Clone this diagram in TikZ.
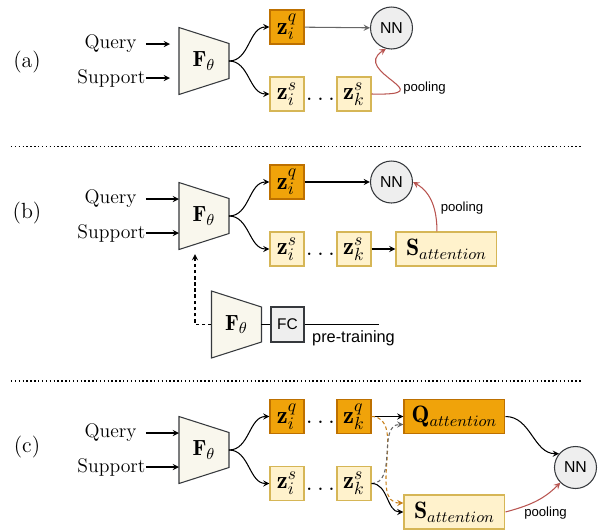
\documentclass[tikz,border=0pt]{standalone}
\usepackage{fontspec}
\newfontfamily\sansfont{Liberation Sans}
\usetikzlibrary{positioning, shapes.geometric, arrows, calc}
\definecolor{zqfill}{HTML}{F0A30A}
\definecolor{zqline}{HTML}{BD7000}
\definecolor{zsfill}{HTML}{FFF2CC}
\definecolor{zsline}{HTML}{D6B656}
\definecolor{encfill}{HTML}{F9F7ED}
\definecolor{encline}{HTML}{36393D}
\definecolor{nnfill}{HTML}{EEEEEE}
\definecolor{poolred}{HTML}{B85450}
\definecolor{dashorange}{HTML}{C8801A}
\tikzset{
	zq/.style={
		rectangle,
		draw=zqline,
		fill=zqfill,
		minimum size=0.68cm,
		inner sep=0pt,
		font=\fontsize{14}{16}\selectfont,
	},
	zs/.style={
		zq,
		draw=zsline,
		fill=zsfill,
	},
	attq/.style={zq, minimum width=2.02cm, font=\fontsize{13.5}{16}\selectfont},
	atts/.style={zs, minimum width=2.02cm, font=\fontsize{13.5}{16}\selectfont},
	nn/.style={
		circle,
		draw=encline,
		fill=nnfill,
		minimum size=0.84cm,
		inner sep=0pt,
		font=\sansfont\fontsize{9}{10}\selectfont,
	},
	fcbox/.style={
		rectangle,
		draw=encline,
		fill=nnfill,
		minimum width=0.66cm,
		minimum height=0.7cm,
		inner sep=0pt,
		font=\sansfont\fontsize{8.8}{10}\selectfont,
	},
	enc/.style={draw=encline, fill=encfill},
	inlbl/.style={anchor=east, inner sep=0pt, font=\fontsize{11.2}{13}\selectfont},
	pool/.style={->, poolred},
	poollbl/.style={inner sep=0pt, font=\sansfont\fontsize{7.5}{9}\selectfont},
	ptlbl/.style={inner sep=0pt, font=\sansfont\fontsize{9.3}{11}\selectfont},
	dots/.style={inner sep=0pt, yshift=-0.11cm, font=\fontsize{14}{16}\selectfont},
	panel/.style={font=\fontsize{12.5}{15}\selectfont},
	sep/.style={line width=0.8pt, dash pattern=on 0.8pt off 1.4pt},
	dsh/.style={dash pattern=on 2pt off 1.5pt},
}
% encoder trapezoid with its label and anchors
\newcommand{\encoder}[2]{%
	\draw[enc] (#2) ++(-25,-33.5) -- ++(50,16) -- ++(0,35) -- ++(-50,16) -- cycle;
	\node[font=\fontsize{12.5}{15}\selectfont] (#1) at (#2) {$\mathbf{F}_\theta$};
	\coordinate (#1-q) at ($(#2)+(-25,-17)$);
	\coordinate (#1-s) at ($(#2)+(-25,17)$);
	\coordinate (#1-in) at ($(#2)+(-25,0)$);
	\coordinate (#1-out) at ($(#2)+(25,0)$);
}
\begin{document}
\begin{tikzpicture}[x=0.02cm, y=-0.02cm, node distance=1.34cm, >=stealth, line width=0.6pt]
	\useasboundingbox (0,0) rectangle (600,529);
	
	% (a)
	\node[panel] (pa) at (27,62) {(a)};
	\encoder{encA}{204,61}
	\node[inlbl, inner xsep=5.1pt] (qrya) at (146,44) {Query};
	\node[inlbl] (supa) at (146,78) {Support};
	\draw [->] (qrya) to ([xshift=-0.18cm]encA-q);
	\draw [->] (supa) to ([xshift=-0.18cm]encA-s);
	
	\node[zq] (zaiq) at (287,27) {$\mathbf{z}_i^q$};
	\node[zs, below of = zaiq] (zais) {$\mathbf{z}_i^s$};
	\node[zs, right of = zais] (zaks) {$\mathbf{z}_k^s$};
	\node[dots] (dta) at ($(zais)!0.5!(zaks)$) {$\ldots$};
	\node[nn] (nna) at (391.5,28) {NN};
	
	\draw [->] (encA-out) to[out=0, in=180] (zaiq.west);
	\draw [->] (encA-out) to[out=0, in=180] (zais.west);
	\draw [->, black!60] (zaiq) to (nna);
	\draw [pool] (zaks.east) .. controls +(74,2) and +(-36,23) .. (nna.-105);
	\node[poollbl] (pla) at (424.5,88) {pooling};
	
	\draw [sep] (11,146.5) -- (581,146.5);
	
	% (b)
	\node[panel] (pb) at (27,213) {(b)};
	\encoder{encB}{204,216}
	\node[inlbl, inner xsep=5.1pt] (qryb) at (146,199) {Query};
	\node[inlbl] (supb) at (146,233) {Support};
	\draw [->] (qryb) to (encB-q);
	\draw [->] (supb) to (encB-s);
	
	\node[zq] (zbiq) at (287,182) {$\mathbf{z}_i^q$};
	\node[zs, below of = zbiq] (zbis) {$\mathbf{z}_i^s$};
	\node[zs, right of = zbis] (zbks) {$\mathbf{z}_k^s$};
	\node[dots] (dtb) at ($(zbis)!0.5!(zbks)$) {$\ldots$};
	\node[atts, right of = zbks, xshift=0.51cm] (satb) {$\mathbf{S}_{attention}$};
	\node[nn] (nnb) at (391.5,182) {NN};
	
	\draw [->] (encB-out) to[out=0, in=180] (zbiq.west);
	\draw [->] (encB-out) to[out=0, in=180] (zbis.west);
	\draw [->] (zbiq) to (nnb);
	\draw [->] (zbks) to (satb);
	\draw [pool] ([xshift=-0.19cm]satb.north) to[out=90, in=-30] (nnb.east);
	\node[poollbl] (plb) at (462,208) {pooling};
	
	\encoder{encP}{236.5,324.5}
	\node[fcbox] (fc) at (287.5,324.5) {FC};
	\coordinate (ptend) at (379,324.5);
	\coordinate (encB-dn) at (195,254);
	\draw (encP-out) to (fc);
	\draw (fc) to (ptend);
	\node[ptlbl] (ptl) at (353.5,338) {pre-training};
	\draw [->, dsh] (encP-in) -| (encB-dn);
	
	\draw [sep] (11,381) -- (581,381);
	
	% (c)
	\node[panel] (pc) at (27,447) {(c)};
	\encoder{encC}{204,450}
	\node[inlbl, inner xsep=5.1pt] (qryc) at (146,433) {Query};
	\node[inlbl] (supc) at (146,467) {Support};
	\draw [->] (qryc) to (encC-q);
	\draw [->] (supc) to (encC-s);
	
	\node[zq] (zciq) at (287,416.5) {$\mathbf{z}_i^q$};
	\node[zq, right of = zciq] (zckq) {$\mathbf{z}_k^q$};
	\node[dots] (dtcq) at ($(zciq)!0.5!(zckq)$) {$\ldots$};
	\node[attq, right of = zckq, xshift=0.67cm] (qatc) {$\mathbf{Q}_{attention}$};
	\node[zs, below of = zciq] (zcis) {$\mathbf{z}_i^s$};
	\node[zs, right of = zcis] (zcks) {$\mathbf{z}_k^s$};
	\node[dots] (dtcs) at ($(zcis)!0.5!(zcks)$) {$\ldots$};
	\node[atts, right of = zcks, xshift=0.67cm, yshift=-0.57cm] (satc) {$\mathbf{S}_{attention}$};
	\node[nn] (nnc) at (575.5,467.5) {NN};
	
	\draw [->] (encC-out) to[out=0, in=180] (zciq.west);
	\draw [->] (encC-out) to[out=0, in=180] (zcis.west);
	\draw [->] (zckq) to (qatc);
	\draw [->, dsh, dashorange] (zckq.east) to[out=0, in=180] ([yshift=0.18cm]satc.west);
	\draw [->, dsh, black!60] (zcks.east) to[out=0, in=180] ([yshift=-0.16cm]qatc.west);
	\draw [->] (zcks.east) to[out=0, in=180] (satc.west);
	\draw [->] (qatc.east) to[out=0, in=180] (nnc.140);
	\draw [pool] (satc.east) to[out=15, in=-135] (nnc.-135);
	\node[poollbl] (plc) at (545.5,513) {pooling};

\end{tikzpicture}
\end{document}
